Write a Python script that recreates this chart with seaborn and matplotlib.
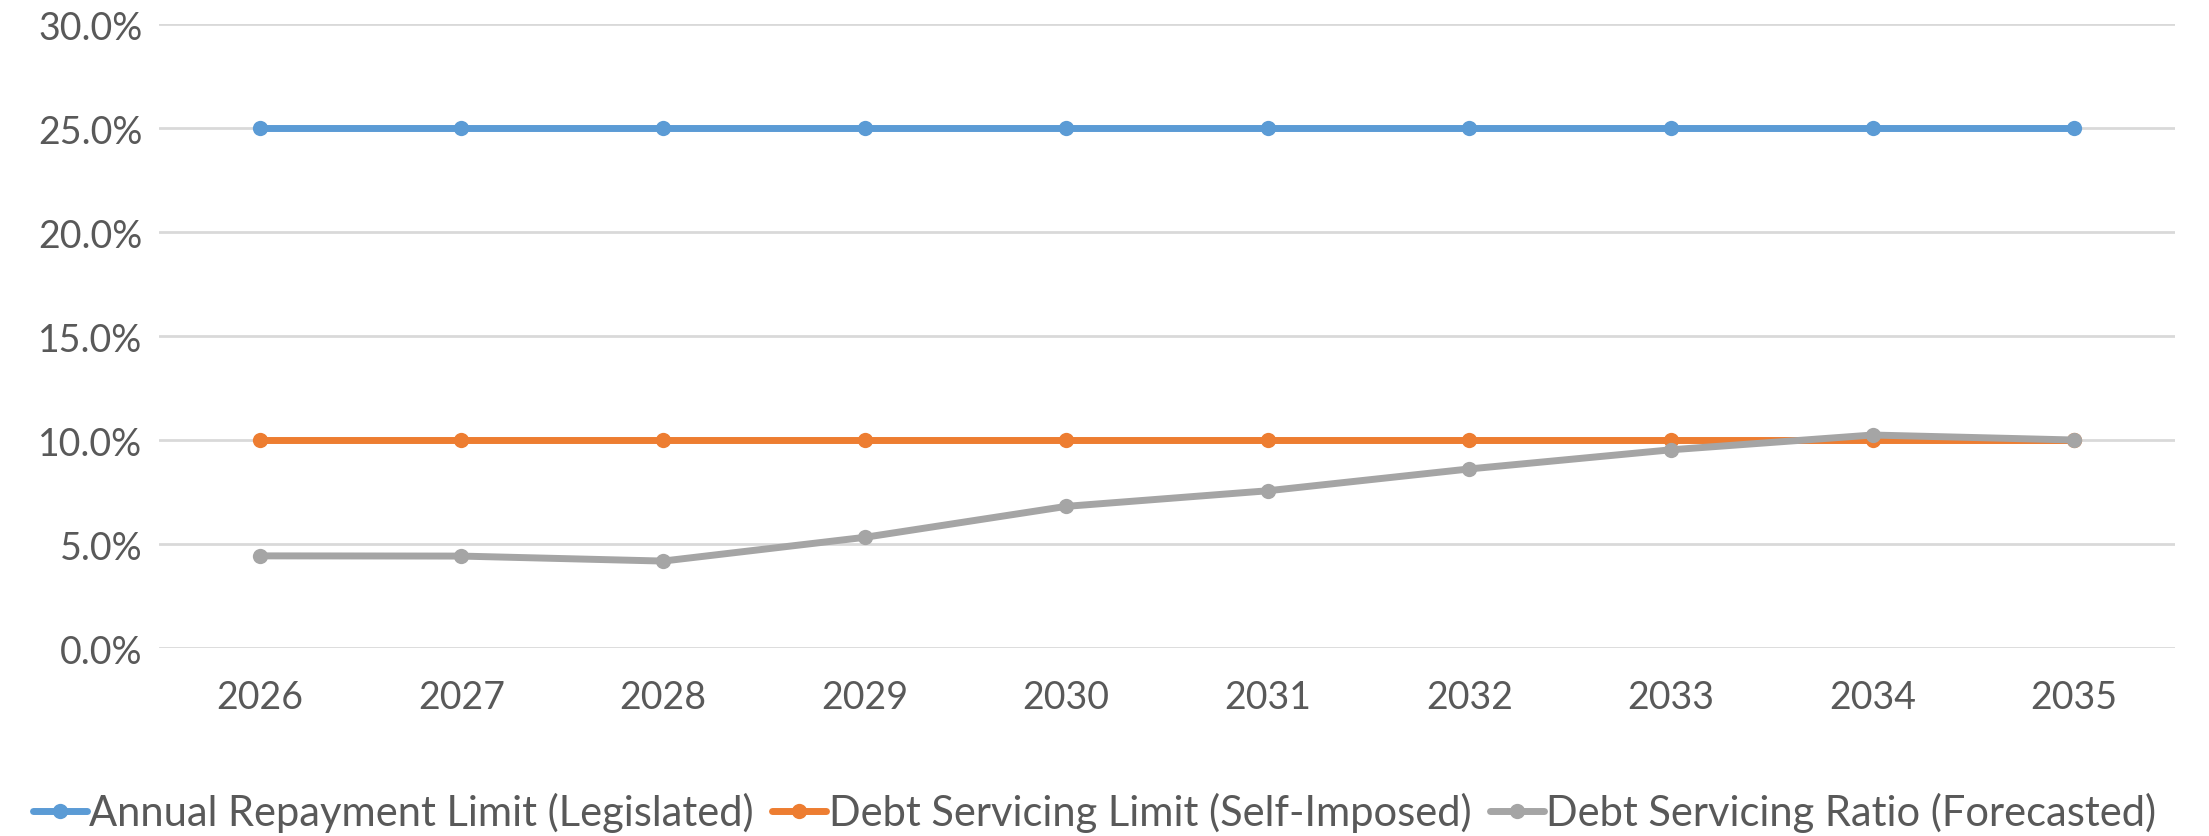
import matplotlib
matplotlib.use("Agg")
import matplotlib.pyplot as plt
from matplotlib.ticker import FuncFormatter
import seaborn as sns
import pandas as pd

years = ["2026", "2027", "2028", "2029", "2030", "2031", "2032", "2033", "2034", "2035"]
annual_repayment_limit = [25.0, 25.0, 25.0, 25.0, 25.0, 25.0, 25.0, 25.0, 25.0, 25.0]
debt_servicing_limit = [10.0, 10.0, 10.0, 10.0, 10.0, 10.0, 10.0, 10.0, 10.0, 10.0]
debt_servicing_ratio = [4.43, 4.42, 4.18, 5.32, 6.81, 7.56, 8.61, 9.53, 10.24, 10.0]

series_names = [
    "Annual Repayment Limit (Legislated)",
    "Debt Servicing Limit (Self-Imposed)",
    "Debt Servicing Ratio (Forecasted)",
]
series_values = [annual_repayment_limit, debt_servicing_limit, debt_servicing_ratio]
colors = ["#5B9BD5", "#ED7D31", "#A5A5A5"]

rows = []
for name, vals in zip(series_names, series_values):
    for i, (yr, v) in enumerate(zip(years, vals)):
        rows.append({"pos": i, "year": yr, "value": v, "series": name})
df = pd.DataFrame(rows)

sns.set_theme(style="white")
plt.rcParams["font.family"] = ["Lato", "DejaVu Sans"]

fig = plt.figure(figsize=(22.09, 8.37), dpi=100)
ax = fig.add_axes([0.072, 0.2246, 0.9126, 0.7455])

sns.lineplot(
    data=df, x="pos", y="value", hue="series", hue_order=series_names,
    palette=colors, marker="o", markersize=11, markeredgewidth=0,
    linewidth=5, ax=ax, legend=True, zorder=3,
)

ax.set_xlim(-0.5, len(years) - 0.5)
ax.set_ylim(0, 30)
ax.set_yticks([0, 5, 10, 15, 20, 25, 30])
ax.yaxis.set_major_formatter(FuncFormatter(lambda v, p: f"{v:.1f}%"))
ax.set_xticks(range(len(years)))
ax.set_xticklabels(years)
ax.set_xlabel("")
ax.set_ylabel("")

ax.grid(axis="y", color="#D9D9D9", linewidth=2)
ax.set_axisbelow(True)
for side in ["top", "right", "left", "bottom"]:
    ax.spines[side].set_visible(False)
ax.tick_params(axis="both", length=0, labelsize=27, colors="#595959", pad=12)
ax.tick_params(axis="x", pad=22)

handles, labels = ax.get_legend_handles_labels()
ax.legend(
    handles, labels, loc="center", bbox_to_anchor=(0.5 - 0.072 / 2, -0.263),
    bbox_transform=ax.transAxes, ncol=3, frameon=False, fontsize=30,
    handlelength=1.3, handletextpad=0.05, columnspacing=0.45, labelcolor="#595959",
)

fig.savefig("out.png", dpi=100)
